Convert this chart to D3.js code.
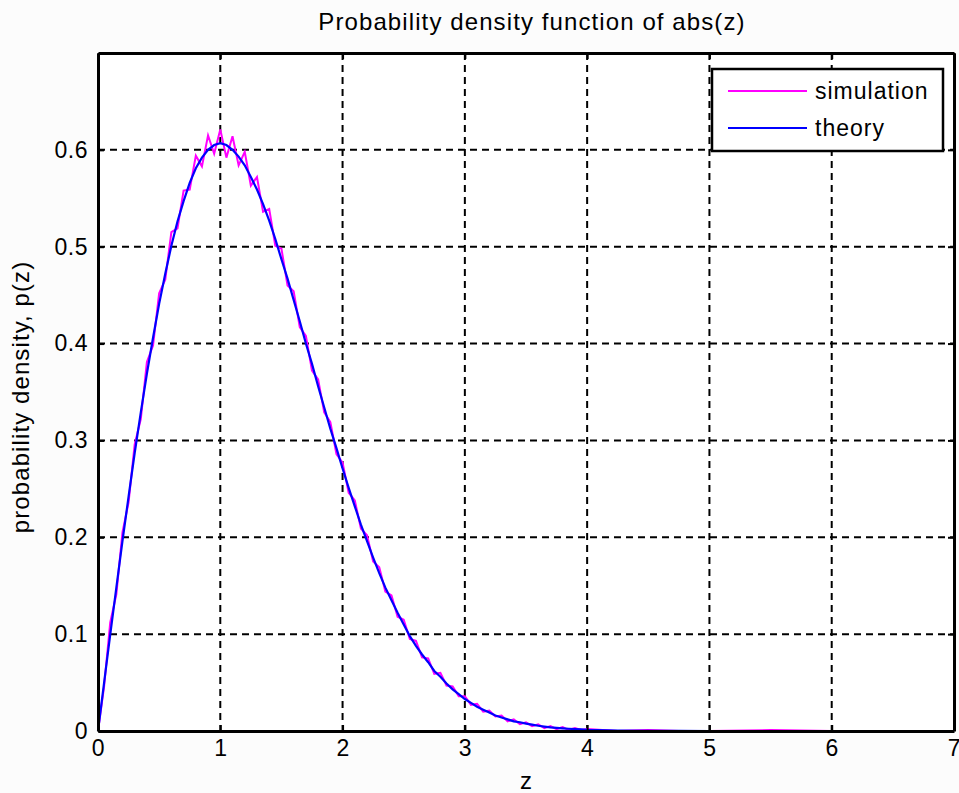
<!DOCTYPE html>
<html>
<head>
<meta charset="utf-8">
<script src="https://cdn.jsdelivr.net/npm/d3@7"></script>
<style>
  body { margin: 0; background: #fcfcfc; }
  svg { display: block; font-family: "Liberation Sans", Arial, sans-serif; }
</style>
</head>
<body>
<svg id="chart"></svg>
<script>
var width = 959;
var height = 793;

// z positions
var zValues = [
  0.00, 0.05, 0.10, 0.15, 0.20, 0.25, 0.30, 0.35, 0.40, 0.45,
  0.50, 0.55, 0.60, 0.65, 0.70, 0.75, 0.80, 0.85, 0.90, 0.95,
  1.00, 1.05, 1.10, 1.15, 1.20, 1.25, 1.30, 1.35, 1.40, 1.45,
  1.50, 1.55, 1.60, 1.65, 1.70, 1.75, 1.80, 1.85, 1.90, 1.95,
  2.00, 2.05, 2.10, 2.15, 2.20, 2.25, 2.30, 2.35, 2.40, 2.45,
  2.50, 2.55, 2.60, 2.65, 2.70, 2.75, 2.80, 2.85, 2.90, 2.95,
  3.00, 3.05, 3.10, 3.15, 3.20, 3.25, 3.30, 3.35, 3.40, 3.45,
  3.50, 3.55, 3.60, 3.65, 3.70, 3.75, 3.80, 3.85, 3.90, 3.95,
  4.00, 4.25, 4.50, 4.75, 5.00, 5.50, 6.00, 6.50, 7.00
];

// theory curve
var theoryValues = [
  0, 0.0499, 0.0995, 0.148, 0.196, 0.242, 0.287, 0.329, 0.369, 0.406,
  0.441, 0.472, 0.501, 0.526, 0.547, 0.566, 0.581, 0.592, 0.600, 0.605,
  0.607, 0.605, 0.600, 0.593, 0.584, 0.572, 0.559, 0.544, 0.527, 0.508,
  0.487, 0.467, 0.445, 0.423, 0.400, 0.379, 0.356, 0.334, 0.312, 0.292,
  0.271, 0.251, 0.232, 0.213, 0.196, 0.179, 0.163, 0.148, 0.135, 0.122,
  0.110, 0.098, 0.088, 0.079, 0.071, 0.062, 0.056, 0.049, 0.043, 0.038,
  0.033, 0.029, 0.025, 0.022, 0.019, 0.016, 0.014, 0.012, 0.010, 0.009,
  0.0076, 0.0065, 0.0054, 0.0046, 0.0038, 0.0032, 0.0027, 0.0023, 0.0019, 0.0016,
  0.0013, 0.0005, 0.0002, 0.0001, 0, 0, 0, 0, 0
];

// simulated histogram (noisy)
var simulationValues = [
  0, 0.046, 0.112, 0.141, 0.205, 0.236, 0.296, 0.322, 0.381, 0.398,
  0.452, 0.466, 0.515, 0.519, 0.558, 0.559, 0.594, 0.583, 0.615, 0.596,
  0.621, 0.592, 0.614, 0.584, 0.598, 0.563, 0.572, 0.536, 0.539, 0.501,
  0.498, 0.460, 0.454, 0.417, 0.408, 0.372, 0.363, 0.329, 0.319, 0.286,
  0.277, 0.246, 0.238, 0.209, 0.202, 0.175, 0.169, 0.144, 0.140, 0.118,
  0.115, 0.095, 0.093, 0.076, 0.075, 0.059, 0.060, 0.047, 0.046, 0.036,
  0.036, 0.027, 0.028, 0.020, 0.021, 0.015, 0.016, 0.010, 0.012, 0.007,
  0.009, 0.005, 0.007, 0.003, 0.005, 0.002, 0.004, 0.001, 0.003, 0.001,
  0.002, 0, 0.001, 0, 0, 0.001, 0, 0, 0
];

var xTicks = [0, 1, 2, 3, 4, 5, 6, 7];
var yTicks = [0, 0.1, 0.2, 0.3, 0.4, 0.5, 0.6];

var plotLeft = 98, plotRight = 954, plotTop = 53, plotBottom = 731;

var svg = d3.select("#chart")
    .attr("width", width)
    .attr("height", height)
    .style("background-color", "#fcfcfc");

var x = d3.scaleLinear().domain([0, 7]).range([plotLeft, plotRight]);
var y = d3.scaleLinear().domain([0, 0.7]).range([plotBottom, plotTop]);

svg.append("rect")
    .attr("x", plotLeft).attr("y", plotTop)
    .attr("width", plotRight - plotLeft).attr("height", plotBottom - plotTop)
    .style("fill", "white");

// grid
svg.append("g")
    .selectAll("line")
    .data(xTicks.slice(1, -1))
    .enter()
    .append("line")
    .attr("x1", function (d) { return x(d); })
    .attr("x2", function (d) { return x(d); })
    .attr("y1", plotTop).attr("y2", plotBottom)
    .style("stroke", "black")
    .style("stroke-width", 2)
    .style("stroke-dasharray", "7,5");
svg.append("g")
    .selectAll("line")
    .data(yTicks.slice(1))
    .enter()
    .append("line")
    .attr("y1", function (d) { return y(d); })
    .attr("y2", function (d) { return y(d); })
    .attr("x1", plotLeft).attr("x2", plotRight)
    .style("stroke", "black")
    .style("stroke-width", 2)
    .style("stroke-dasharray", "7,5");

// lines
var lineData = zValues.map(function (z, i) {
    return {z: z, sim: simulationValues[i], th: theoryValues[i]};
});

var simLine = d3.line()
    .x(function (d) { return x(d.z); })
    .y(function (d) { return y(d.sim); });
var thLine = d3.line()
    .x(function (d) { return x(d.z); })
    .y(function (d) { return y(d.th); });

svg.append("path")
    .datum(lineData)
    .attr("d", simLine)
    .style("fill", "none")
    .style("stroke", "#ff00ff")
    .style("stroke-width", 2);
svg.append("path")
    .datum(lineData)
    .attr("d", thLine)
    .style("fill", "none")
    .style("stroke", "#0000ff")
    .style("stroke-width", 2.2);

// axes (ticks inward)
var xAxis = svg.append("g")
    .attr("transform", "translate(0," + plotBottom + ")")
    .call(d3.axisBottom(x).tickValues(xTicks).tickSizeInner(-6).tickSizeOuter(0).tickPadding(9).tickFormat(d3.format("d")));
var xAxisTop = svg.append("g")
    .attr("transform", "translate(0," + plotTop + ")")
    .call(d3.axisTop(x).tickValues(xTicks).tickSizeInner(-6).tickSizeOuter(0).tickFormat(""));
var yAxis = svg.append("g")
    .attr("transform", "translate(" + plotLeft + ",0)")
    .call(d3.axisLeft(y).tickValues(yTicks).tickSizeInner(-6).tickSizeOuter(0).tickPadding(10)
        .tickFormat(function (d) { return d === 0 ? "0" : d3.format(".1f")(d); }));
var yAxisRight = svg.append("g")
    .attr("transform", "translate(" + plotRight + ",0)")
    .call(d3.axisRight(y).tickValues(yTicks).tickSizeInner(-6).tickSizeOuter(0).tickFormat(""));

[xAxis, xAxisTop, yAxis, yAxisRight].forEach(function (g) {
    g.select(".domain").style("stroke", "black").style("stroke-width", 3);
    g.selectAll(".tick line").style("stroke", "black").style("stroke-width", 2);
    g.selectAll("text")
        .style("font-size", "23px")
        .style("letter-spacing", "0.5px")
        .style("fill", "black")
        .style("font-family", "'Liberation Sans', Arial, sans-serif");
});

// legend
var legend = svg.append("g");
legend.append("rect")
    .attr("x", 712).attr("y", 69)
    .attr("width", 231).attr("height", 82)
    .style("fill", "white")
    .style("stroke", "black")
    .style("stroke-width", 2.5);
var legendItems = [
    {label: "simulation", color: "#ff00ff", ly: 91},
    {label: "theory", color: "#0000ff", ly: 128}
];
legend.selectAll(".legLine")
    .data(legendItems)
    .enter()
    .append("line")
    .attr("x1", 728).attr("x2", 807)
    .attr("y1", function (d) { return d.ly; })
    .attr("y2", function (d) { return d.ly; })
    .style("stroke", function (d) { return d.color; })
    .style("stroke-width", 2);
legend.selectAll(".legText")
    .data(legendItems)
    .enter()
    .append("text")
    .attr("x", 815)
    .attr("y", function (d) { return d.ly + 8; })
    .text(function (d) { return d.label; })
    .style("font-size", "23px")
    .style("letter-spacing", "1px")
    .style("fill", "black");

// title and labels
svg.append("text")
    .attr("x", (plotLeft + plotRight) / 2 + 6)
    .attr("y", 30)
    .attr("text-anchor", "middle")
    .style("font-size", "24px")
    .style("letter-spacing", "1.1px")
    .text("Probability density function of abs(z)");
svg.append("text")
    .attr("x", (plotLeft + plotRight) / 2)
    .attr("y", 789)
    .attr("text-anchor", "middle")
    .style("font-size", "24px")
    .text("z");
svg.append("text")
    .attr("transform", "translate(29,397) rotate(-90)")
    .attr("text-anchor", "middle")
    .style("font-size", "24px")
    .style("letter-spacing", "1.1px")
    .text("probability density, p(z)");
</script>
</body>
</html>
